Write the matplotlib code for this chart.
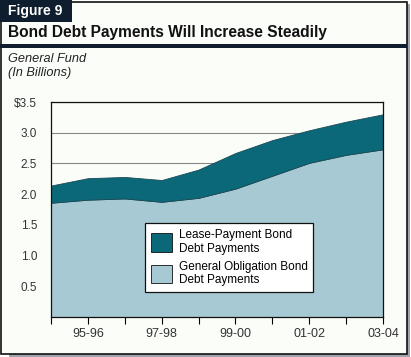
import matplotlib
matplotlib.use("Agg")
import matplotlib.pyplot as plt
from matplotlib.patches import Rectangle
import numpy as np

plt.rcParams['font.family'] = ['Liberation Sans', 'DejaVu Sans']

# fiscal years 94-95 .. 03-04
years = ['94-95', '95-96', '96-97', '97-98', '98-99',
         '99-00', '00-01', '01-02', '02-03', '03-04']
general_obligation = [1.86, 1.91, 1.93, 1.875, 1.94, 2.09, 2.30, 2.51, 2.64, 2.73]
total_payments = [2.14, 2.26, 2.28, 2.23, 2.40, 2.67, 2.88, 3.04, 3.18, 3.30]
lease_payment = [t - g for t, g in zip(total_payments, general_obligation)]

y_ticks = [0.5, 1.0, 1.5, 2.0, 2.5, 3.0, 3.5]
y_labels = ['0.5', '1.0', '1.5', '2.0', '2.5', '3.0', '$3.5']

W, H = 411, 357
dark = '#0b6878'
light = '#a7c9d3'
navy = '#0f1e2e'

fig = plt.figure(figsize=(W / 100, H / 100), dpi=100)
fig.patch.set_facecolor('#ffffff')

def px(x0, y0, w, h):
    # pixel box (top-left origin) -> figure fraction
    return [x0 / W, 1 - (y0 + h) / H, w / W, h / H]

# outer frame with shadow
fig.patches.append(Rectangle((9 / W, 0), 401 / W, 1 - 4 / H, transform=fig.transFigure,
                             facecolor='#a0a4ac', edgecolor='none', zorder=0))
fig.patches.append(Rectangle((1 / W, 3 / H), 406 / W, 1 - 5 / H, transform=fig.transFigure,
                             facecolor='#fbfdf9', edgecolor='#111111', linewidth=1.2, zorder=1))
# title bar line
fig.patches.append(Rectangle((0, 1 - 48 / H), 407 / W, 4 / H, transform=fig.transFigure,
                             facecolor=navy, edgecolor='none', zorder=2))
# figure tab
fig.patches.append(Rectangle((0, 1 - 22 / H), 72 / W, 22 / H, transform=fig.transFigure,
                             facecolor=navy, edgecolor='none', zorder=2))

fig.text(8 / W, 1 - 11 / H, 'Figure 9', color='white', fontsize=10, fontweight='bold',
         va='center', ha='left', zorder=3)
fig.text(8 / W, 1 - 33 / H, 'Bond Debt Payments Will Increase Steadily', color='#111111',
         fontsize=11.2, fontweight='bold', va='center', ha='left', zorder=3)
fig.text(8 / W, 1 - 59 / H, 'General Fund', fontsize=9.2, style='italic',
         color='#222222', va='center', ha='left', zorder=3)
fig.text(8 / W, 1 - 73 / H, '(In Billions)', fontsize=9.2, style='italic',
         color='#222222', va='center', ha='left', zorder=3)

ax = fig.add_axes(px(51, 102, 332, 215), zorder=4)
ax.set_facecolor('none')
x = np.arange(len(years))
ax.stackplot(x, general_obligation, lease_payment, colors=[light, dark],
             edgecolor='#1a4a55', linewidth=0.6, zorder=2,
             labels=['General Obligation Bond\nDebt Payments',
                     'Lease-Payment Bond\nDebt Payments'])

ax.set_xlim(0, len(years) - 1)
ax.set_ylim(0, 3.5)
ax.set_yticks(y_ticks)
ax.set_yticklabels(y_labels)
ax.set_xticks(x)
ax.set_xticklabels([y if i % 2 == 1 else '' for i, y in enumerate(years)])
ax.tick_params(axis='y', length=0, pad=10, labelsize=8.5, labelcolor='#333333')
ax.tick_params(axis='x', length=5, width=0.8, pad=3, labelsize=9, labelcolor='#333333')
ax.yaxis.grid(True, color='#888888', linewidth=0.8, zorder=1)
ax.set_axisbelow(True)
for s in ax.spines.values():
    s.set_linewidth(0.9)
    s.set_color('#111111')

handles, labels = ax.get_legend_handles_labels()
leg = ax.legend(handles[::-1], labels[::-1], loc='upper left',
                bbox_to_anchor=((145 - 51) / 332, (317 - 223) / 215),
                fontsize=8.5, frameon=True, fancybox=False, edgecolor='#111111',
                framealpha=1, handlelength=1.8, handleheight=2.0, labelspacing=0.5,
                borderpad=0.5, handletextpad=0.55, borderaxespad=0)
leg.get_frame().set_linewidth(0.9)
for h in leg.legend_handles:
    h.set_edgecolor('#111111')

fig.savefig('out.png', dpi=100)
